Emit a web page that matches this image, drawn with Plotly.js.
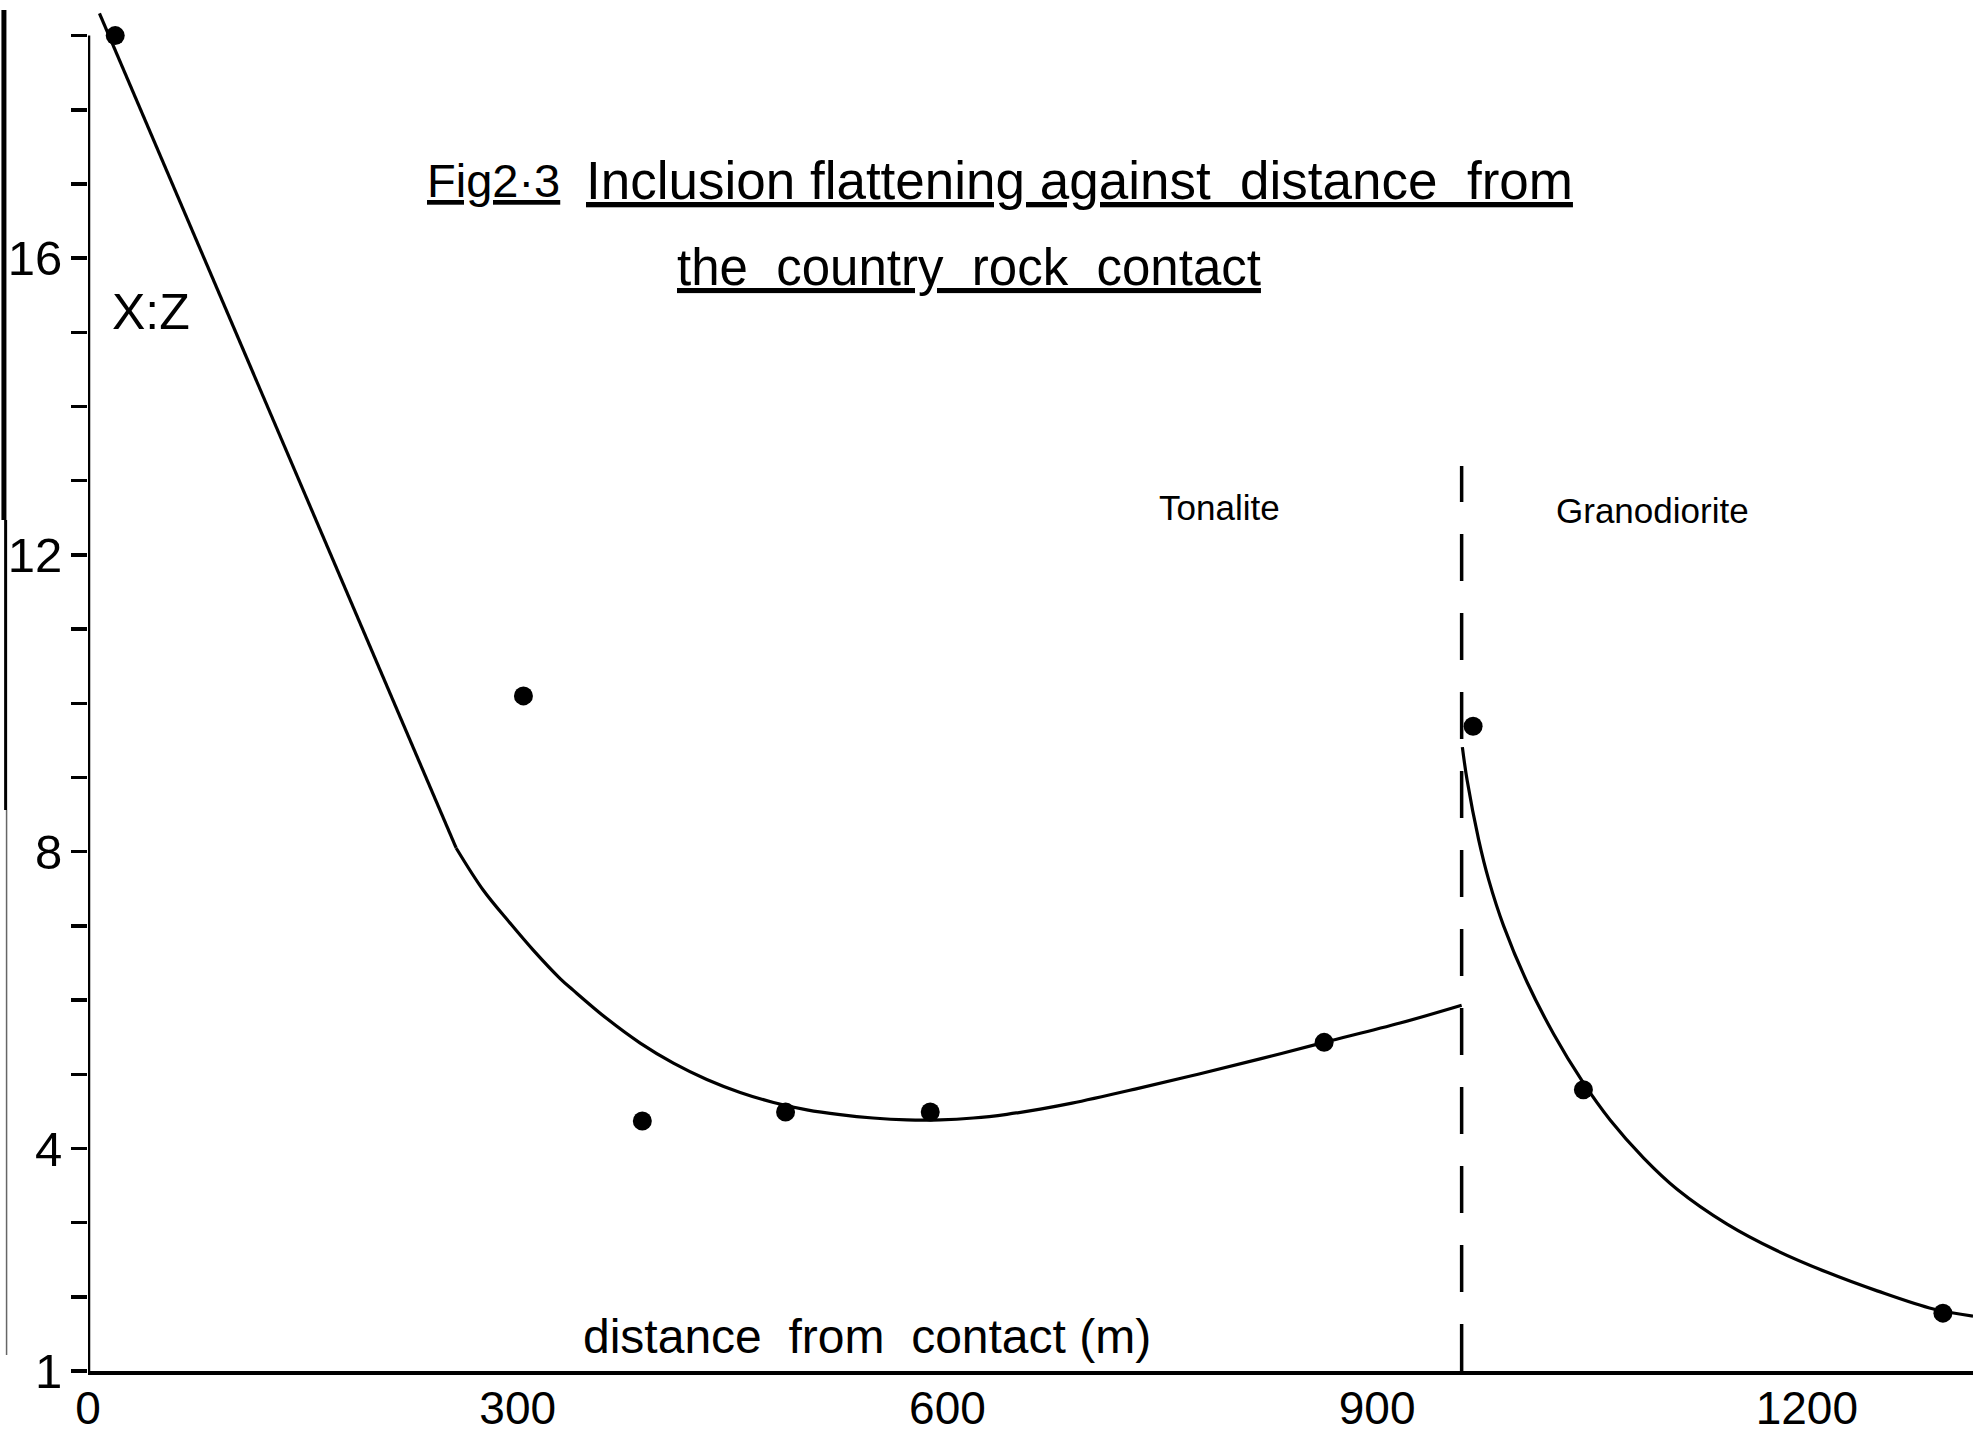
<!DOCTYPE html>
<html><head><meta charset="utf-8">
<script src="https://cdn.plot.ly/plotly-3.0.1.min.js"></script>
<style>html,body{margin:0;padding:0;overflow:hidden;background:#fff}</style>
</head><body><div id="chart" style="width:1978px;height:1435px"></div>
<script>
// Measured samples (distance from contact in m, X:Z flattening ratio)
const sampleDistance   = [19, 304, 387, 487, 588, 863, 967, 1044, 1295];
const sampleFlattening = [19.0, 10.1, 4.37, 4.49, 4.49, 5.43, 9.69, 4.79, 1.78];

// Hand-drawn fit through the tonalite: straight part, then curve
const tonaliteLineDistance   = [8, 257];
const tonaliteLineFlattening = [19.3, 8.05];
const tonaliteCurveDistance   = [257, 276, 295, 311, 329.6, 338.9, 362.2, 385.5, 408.7, 432, 455.3, 478.6, 501.9, 525, 548, 571.7, 595, 618, 641.5, 664.8, 687, 731, 775, 819, 863, 916, 959];
const tonaliteCurveFlattening = [8.05, 7.48, 7.03, 6.67, 6.29, 6.13, 5.75, 5.42, 5.15, 4.93, 4.755, 4.62, 4.52, 4.455, 4.41, 4.385, 4.385, 4.41, 4.46, 4.53, 4.61, 4.80, 5.00, 5.21, 5.43, 5.69, 5.93];

// Hand-drawn fit through the granodiorite
const granodioriteCurveDistance   = [959.5, 962.8, 970.9, 977.9, 988.3, 1004.7, 1023.3, 1043.1, 1062.8, 1086.1, 1109.4, 1144.3, 1179.3, 1214.2, 1249.1, 1288.4, 1316];
const granodioriteCurveFlattening = [9.41, 8.965, 8.16, 7.62, 7.0, 6.24, 5.54, 4.91, 4.38, 3.87, 3.45, 2.98, 2.62, 2.33, 2.08, 1.835, 1.74];

// Tonalite / granodiorite boundary
const contactDistance   = [959, 959];
const contactFlattening = [1, 13.2];

// Axis ticks
const xTickVals = [0, 300, 600, 900, 1200];
const xTickText = ['0', '300', '600', '900', '1200'];
const yTickVals = [1, 2, 3, 4, 5, 6, 7, 8, 9, 10, 11, 12, 13, 14, 15, 16, 17, 18, 19];
const yTickText = ['1', '', '', '4', '', '', '', '8', '', '', '', '12', '', '', '', '16', '', '', ''];

const FONT = 'Liberation Sans, Arial, sans-serif';
const NB = '\u00A0';

const traces = [
  { x: tonaliteLineDistance, y: tonaliteLineFlattening, mode: 'lines',
    line: { color: '#000', width: 3.2 }, hoverinfo: 'skip' },
  { x: tonaliteCurveDistance, y: tonaliteCurveFlattening, mode: 'lines',
    line: { color: '#000', width: 3.2, shape: 'spline', smoothing: 1 }, hoverinfo: 'skip' },
  { x: granodioriteCurveDistance, y: granodioriteCurveFlattening, mode: 'lines',
    line: { color: '#000', width: 3.2, shape: 'spline', smoothing: 1 }, hoverinfo: 'skip' },
  { x: contactDistance, y: contactFlattening, mode: 'lines',
    line: { color: '#000', width: 3.5, dash: '47px,32px' }, hoverinfo: 'skip' },
  { x: sampleDistance, y: sampleFlattening, mode: 'markers',
    marker: { color: '#000', size: 19 }, name: 'X:Z' }
];

const layout = {
  width: 1978, height: 1435,
  margin: { l: 88, r: 5, t: 0, b: 64, pad: 0 },
  paper_bgcolor: '#fff', plot_bgcolor: '#fff',
  showlegend: false,
  font: { family: FONT, color: '#000' },
  xaxis: {
    range: [0, 1316], showgrid: false, zeroline: false,
    showline: true, linecolor: '#000', linewidth: 4,
    ticks: '', tickvals: xTickVals, ticktext: xTickText,
    ticklabelstandoff: -6,
    tickfont: { family: FONT, size: 46, color: '#000' }
  },
  yaxis: {
    range: [1, 19.48], showgrid: false, zeroline: false, showline: false,
    ticks: 'outside', ticklen: 16, tickwidth: 3.5, tickcolor: '#000',
    tickvals: yTickVals, ticktext: yTickText,
    ticklabelstandoff: -1,
    tickfont: { family: FONT, size: 49, color: '#000' }
  },
  shapes: [
    { type: 'line', xref: 'x', yref: 'y', x0: 0, x1: 0,
      y0: yTickVals[0], y1: yTickVals[yTickVals.length - 1],
      line: { color: '#000', width: 4.5 } },
    // scanned page edge on the far left
    { type: 'line', xref: 'paper', yref: 'paper', x0: -0.0446, x1: -0.0446, y0: 0.9927, y1: 0.6207,
      line: { color: '#000', width: 5 } },
    { type: 'line', xref: 'paper', yref: 'paper', x0: -0.0437, x1: -0.0437, y0: 0.6207, y1: 0.4092,
      line: { color: '#000', width: 3 } },
    { type: 'line', xref: 'paper', yref: 'paper', x0: -0.0432, x1: -0.0432, y0: 0.4092, y1: 0.0117,
      line: { color: '#666', width: 1.5 } }
  ],
  annotations: [
    { xref: 'paper', yref: 'paper', x: 0.1788, y: 0.8687, xanchor: 'left', yanchor: 'middle',
      showarrow: false, text: '<u>Fig2·3</u>', font: { family: FONT, size: 47, color: '#000' } },
    { xref: 'paper', yref: 'paper', x: 0.2631, y: 0.8687, xanchor: 'left', yanchor: 'middle',
      showarrow: false,
      text: '<u>Inclusion' + NB + 'flattening' + NB + 'against' + NB + NB + 'distance' + NB + NB + 'from</u>',
      font: { family: FONT, size: 53, color: '#000' } },
    { xref: 'paper', yref: 'paper', x: 0.3114, y: 0.8052, xanchor: 'left', yanchor: 'middle',
      showarrow: false,
      text: '<u>the' + NB + NB + 'country' + NB + NB + 'rock' + NB + NB + 'contact</u>',
      font: { family: FONT, size: 51, color: '#000' } },
    { xref: 'paper', yref: 'paper', x: 0.0117, y: 0.7724, xanchor: 'left', yanchor: 'middle',
      showarrow: false, text: 'X:Z', font: { family: FONT, size: 50, color: '#000' } },
    { xref: 'paper', yref: 'paper', x: 0.6005, y: 0.6295, xanchor: 'center', yanchor: 'middle',
      showarrow: false, text: 'Tonalite', font: { family: FONT, size: 35, color: '#000' } },
    { xref: 'paper', yref: 'paper', x: 0.8302, y: 0.628, xanchor: 'center', yanchor: 'middle',
      showarrow: false, text: 'Granodiorite', font: { family: FONT, size: 35, color: '#000' } },
    { xref: 'paper', yref: 'paper', x: 0.4133, y: 0.0248, xanchor: 'center', yanchor: 'middle',
      showarrow: false,
      text: 'distance' + NB + NB + 'from' + NB + NB + 'contact (m)',
      font: { family: FONT, size: 48, color: '#000' } }
  ]
};

Plotly.newPlot('chart', traces, layout, { displayModeBar: false, staticPlot: true });
</script>
</body></html>
